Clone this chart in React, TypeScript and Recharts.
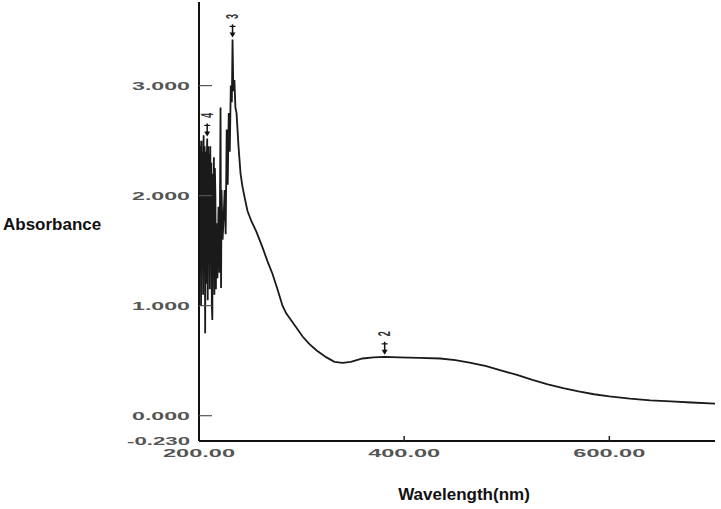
import React from "react";
import {
  ComposedChart,
  Line,
  XAxis,
  YAxis,
  ReferenceDot,
  Label,
} from "recharts";

// wavelength (nm) and absorbance
const wavelengths = [
  200, 200.5, 201, 201.5, 202, 202.5, 203, 203.5, 204, 204.5, 205, 205.5, 206, 206.5, 207, 207.5,
  208, 208.5, 209, 209.5, 210, 210.5, 211, 211.5, 212, 212.5, 213, 213.5, 214, 214.5, 215, 215.5, 216,
  216.5, 217, 218, 219, 220, 221, 221.5, 222, 223, 224, 225, 226, 227, 228, 229, 230, 231, 232,
  232.7, 233.5, 234.5, 235.5, 236.6, 238.5, 240.5, 242.4, 245, 247.3, 251, 256, 261.9, 266.5,
  271.6, 276.5, 281.4, 285, 290, 295, 301, 307.7, 315, 324.3, 332, 340, 348, 359.4, 370, 381, 395,
  415, 435, 450, 465, 480, 495, 510, 525, 540, 555, 570, 585, 600, 620, 640, 660, 680, 703,
];
const absorbance = [
  1.7, 2.5, 1.3, 2.45, 1.0, 2.5, 1.45, 2.4, 1.1, 2.55, 1.35, 2.45, 0.75, 2.4, 1.2, 2.3,
  2.52, 1.05, 2.45, 1.5, 2.38, 1.15, 2.45, 1.4, 2.3, 1.0, 0.87, 2.2, 1.3, 2.35, 1.1, 2.25, 2.0,
  1.15, 1.75, 1.25, 1.9, 1.3, 2.8, 1.16, 2.05, 1.6, 1.8, 2.05, 1.65, 2.6, 2.1, 2.75, 2.4, 3.0, 2.85,
  3.42, 2.95, 3.05, 2.8, 2.75, 2.45, 2.2, 2.08, 1.96, 1.86, 1.77, 1.67, 1.53, 1.41,
  1.29, 1.15, 1.0, 0.93, 0.865, 0.8, 0.72, 0.65, 0.59, 0.53, 0.49, 0.48, 0.49, 0.52, 0.53, 0.535, 0.53,
  0.525, 0.52, 0.505, 0.48, 0.45, 0.41, 0.37, 0.325, 0.285, 0.25, 0.22, 0.195, 0.175, 0.155, 0.14, 0.13, 0.12, 0.11,
];

const peakNm = [381, 232.7, 208];
const peakAbs = [0.535, 3.42, 2.52];
const peakLabels = ["2", "3", "4"];

const xTicks = [200, 400, 600];
const yTicks = [-0.23, 0, 1, 2, 3];

const data = wavelengths.map((nm, i) => ({ nm, abs: absorbance[i] }));
const peaks = peakNm.map((nm, i) => ({ nm, abs: peakAbs[i], label: peakLabels[i] }));

const font = "'Liberation Sans', Arial, sans-serif";

function XTick({ x, y, payload }: any) {
  const v = payload.value as number;
  return (
    <g>
      {v > 200 && <line x1={x} x2={x} y1={y} y2={y - 5} stroke="#222" strokeWidth={1.5} />}
      <text
        x={x}
        y={y + 16}
        textAnchor="middle"
        fontSize={11}
        fontWeight="bold"
        fontFamily={font}
        fill="#555"
        textLength={72}
        lengthAdjust="spacingAndGlyphs"
      >
        {v.toFixed(2)}
      </text>
    </g>
  );
}

function YTick({ x, y, payload }: any) {
  const v = payload.value as number;
  return (
    <g>
      {v > -0.2 && <line x1={x} x2={x + 13} y1={y} y2={y} stroke="#555" strokeWidth={1.2} />}
      <text
        x={x - 9}
        y={y + 4}
        textAnchor="end"
        fontSize={10}
        fontWeight="bold"
        fontFamily={font}
        fill="#555"
        textLength={v < 0 ? 63 : 58}
        lengthAdjust="spacingAndGlyphs"
      >
        {v.toFixed(3)}
      </text>
    </g>
  );
}

function peakShape(label: string) {
  return (props: any) => {
    const { cx, cy } = props;
    return (
      <g>
        <line x1={cx} x2={cx} y1={cy - 4} y2={cy - 15} stroke="#111" strokeWidth={1.5} />
        <line x1={cx - 3} x2={cx + 3} y1={cy - 13} y2={cy - 13} stroke="#111" strokeWidth={1.2} />
        <path d={`M${cx - 3},${cy - 7} L${cx + 3},${cy - 7} L${cx},${cy - 2} Z`} fill="#111" />
        <text
          transform={`translate(${cx},${cy - 23}) scale(1.8,1) rotate(-90)`}
          textAnchor="middle"
          dominantBaseline="central"
          fontSize={9}
          fontWeight="bold"
          fontFamily={font}
          fill="#333"
        >
          {label}
        </text>
      </g>
    );
  };
}

export default function App() {
  return (
    <div style={{ position: "absolute", left: 0, top: 0, width: 721, height: 509, background: "#fff" }}>
      <ComposedChart width={721} height={509} data={data} margin={{ top: 2, right: 6, bottom: 0, left: 0 }}>
        <XAxis
          dataKey="nm"
          type="number"
          domain={[200, 703]}
          ticks={xTicks}
          allowDataOverflow
          height={68}
          tickSize={0}
          tickMargin={0}
          tick={<XTick />}
          axisLine={{ stroke: "#111", strokeWidth: 2 }}
        >
          <Label
            content={() => (
              <text x={464} y={500} textAnchor="middle" fontSize={17} fontWeight="bold" fontFamily={font} fill="#111">
                Wavelength(nm)
              </text>
            )}
          />
        </XAxis>
        <YAxis
          type="number"
          domain={[-0.23, 3.76]}
          ticks={yTicks}
          allowDataOverflow
          width={199}
          tickSize={0}
          tickMargin={0}
          tick={<YTick />}
          axisLine={{ stroke: "#111", strokeWidth: 2 }}
        >
          <Label
            content={() => (
              <text x={3} y={230} fontSize={17} fontWeight="bold" fontFamily={font} fill="#111">
                Absorbance
              </text>
            )}
          />
        </YAxis>
        <Line
          dataKey="abs"
          type="linear"
          stroke="#1a1a1a"
          strokeWidth={1.8}
          dot={false}
          activeDot={false}
          isAnimationActive={false}
        />
        {peaks.map((p) => (
          <ReferenceDot key={p.label} x={p.nm} y={p.abs} r={0} ifOverflow="visible" shape={peakShape(p.label)} />
        ))}
      </ComposedChart>
    </div>
  );
}
